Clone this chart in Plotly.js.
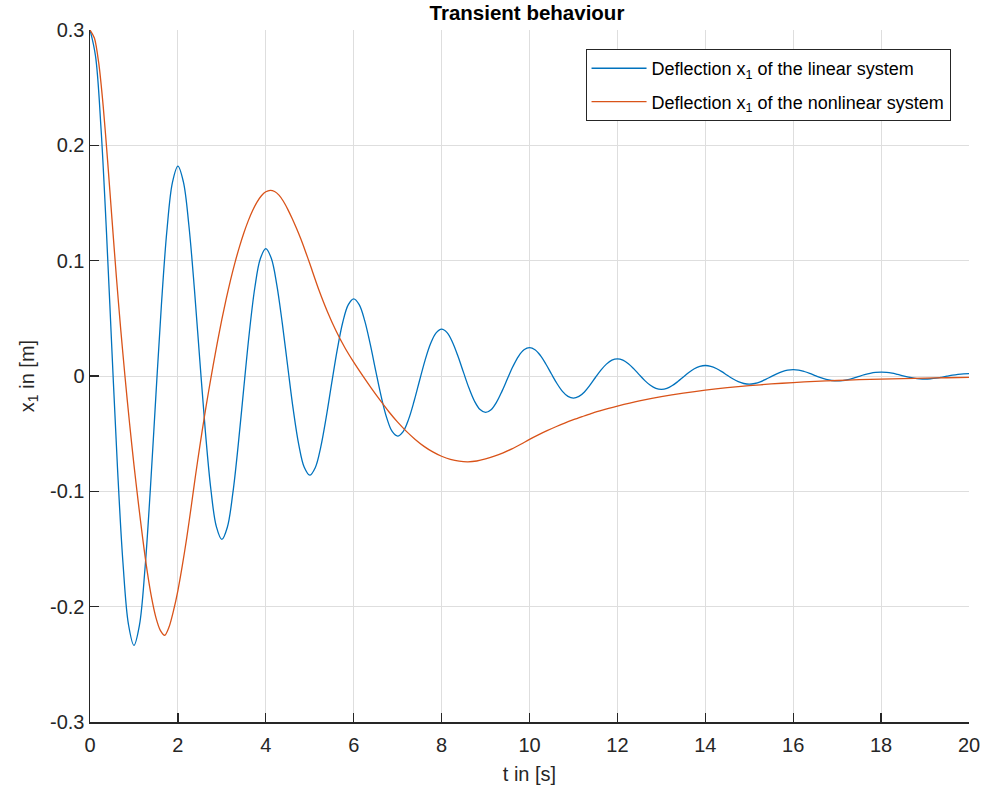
<!DOCTYPE html>
<html>
<head>
<meta charset="utf-8">
<script src="https://cdn.plot.ly/plotly-3.0.1.min.js"></script>
<style>html,body{margin:0;padding:0;background:#fff;}#chart{width:985px;height:789px;}</style>
</head>
<body>
<div id="chart"></div>
<script>
const linearStart = 0;
const linearStep = 0.125;
const linearX1 = [
  0.3000, 0.2775, 0.2151, 0.1246, 0.0211, -0.0793, -0.1619, -0.2154,
  -0.2336, -0.2161, -0.1676, -0.0971, -0.0164, 0.0618, 0.1261, 0.1677,
  0.1820, 0.1683, 0.1305, 0.0756, 0.0128, -0.0481, -0.0982, -0.1306,
  -0.1417, -0.1311, -0.1016, -0.0589, -0.0100, 0.0375, 0.0765, 0.1017,
  0.1104, 0.1021, 0.0791, 0.0458, 0.0078, -0.0292, -0.0595, -0.0792,
  -0.0860, -0.0795, -0.0616, -0.0357, -0.0060, 0.0227, 0.0464, 0.0617,
  0.0669, 0.0619, 0.0480, 0.0278, 0.0047, -0.0177, -0.0361, -0.0481,
  -0.0521, -0.0482, -0.0374, -0.0217, -0.0037, 0.0138, 0.0281, 0.0374,
  0.0406, 0.0376, 0.0291, 0.0169, 0.0029, -0.0107, -0.0219, -0.0291,
  -0.0316, -0.0292, -0.0227, -0.0131, -0.0022, 0.0084, 0.0171, 0.0227,
  0.0246, 0.0228, 0.0177, 0.0102, 0.0017, -0.0065, -0.0133, -0.0177,
  -0.0192, -0.0177, -0.0138, -0.0080, -0.0013, 0.0051, 0.0103, 0.0138,
  0.0149, 0.0138, 0.0107, 0.0062, 0.0010, -0.0040, -0.0081, -0.0107,
  -0.0116, -0.0108, -0.0083, -0.0048, -0.0008, 0.0031, 0.0063, 0.0083,
  0.0091, 0.0084, 0.0065, 0.0038, 0.0006, -0.0024, -0.0049, -0.0065,
  -0.0071, -0.0065, -0.0051, -0.0029, -0.0005, 0.0019, 0.0038, 0.0051,
  0.0055, 0.0051, 0.0039, 0.0023, 0.0004, -0.0015, -0.0030, -0.0039,
  -0.0043, -0.0040, -0.0031, -0.0018, -0.0003, 0.0011, 0.0023, 0.0031,
  0.0034, 0.0032, 0.0025, 0.0014, 0.0002, -0.0009, -0.0018, -0.0024,
  -0.0026, -0.0024, -0.0019, -0.0011, -0.0002, 0.0007, 0.0014, 0.0019,
  0.0021
];

// Nonlinear system deflection x1
const nonlinearT = [
  0, 0.1, 0.2, 0.3, 0.4, 0.5, 0.6, 0.7, 0.8, 0.9,
  1.0, 1.1, 1.2, 1.3, 1.4, 1.5, 1.6, 1.7, 1.8, 1.9,
  2.0, 2.1, 2.2, 2.3, 2.4, 2.5, 2.6, 2.7, 2.8, 2.9,
  3.0, 3.1, 3.2, 3.3, 3.4, 3.5, 3.6, 3.7, 3.8, 3.9,
  4.0, 4.1, 4.2, 4.3, 4.4, 4.5, 4.6, 4.7, 4.8, 4.9,
  5.0, 5.2, 5.4, 5.6, 5.8, 6.0, 6.2, 6.4, 6.6, 6.8,
  7.0, 7.2, 7.4, 7.6, 7.8, 8.0, 8.2, 8.4, 8.6, 8.8,
  9.0, 9.2, 9.4, 9.6, 9.8, 10.0, 10.2, 10.4, 10.6, 10.8,
  11.0, 11.2, 11.4, 11.6, 11.8, 12.0, 12.5, 13.0, 13.5, 14.0,
  14.5, 15.0, 15.5, 16.0, 16.5, 17.0, 17.5, 18.0, 18.5, 19.0,
  19.5, 20.0
];
const nonlinearX1 = [
  0.300, 0.293, 0.271, 0.234, 0.187, 0.136, 0.086, 0.040, -0.002, -0.041,
  -0.077, -0.110, -0.141, -0.169, -0.192, -0.2095, -0.2205, -0.2248, -0.2175, -0.2035,
  -0.186, -0.1645, -0.1405, -0.114, -0.0865, -0.0605, -0.036, -0.013, 0.0088, 0.0295,
  0.049, 0.067, 0.0835, 0.0985, 0.112, 0.124, 0.1345, 0.1435, 0.1508, 0.1563,
  0.1597, 0.1610, 0.1600, 0.1568, 0.1515, 0.1445, 0.1365, 0.1278, 0.1185, 0.1082,
  0.0975, 0.0755, 0.056, 0.039, 0.0245, 0.012, 0.0005, -0.0105, -0.021, -0.031,
  -0.040, -0.048, -0.055, -0.061, -0.0658, -0.0696, -0.0723, -0.0739, -0.0744, -0.0737,
  -0.0719, -0.0695, -0.0666, -0.0632, -0.0592, -0.0550, -0.0511, -0.0474, -0.0440, -0.0408,
  -0.0379, -0.0352, -0.0326, -0.0303, -0.0281, -0.0261, -0.0216, -0.0179, -0.0148, -0.0122,
  -0.0101, -0.0084, -0.0069, -0.0057, -0.0047, -0.0039, -0.0032, -0.0027, -0.0022, -0.0018,
  -0.0015, -0.0012
];

const seriesNames = [
  'Deflection x<sub>1</sub> of the linear system',
  'Deflection x<sub>1</sub> of the nonlinear system'
];
const xTicks = [0, 2, 4, 6, 8, 10, 12, 14, 16, 18, 20];
const yTicks = [-0.3, -0.2, -0.1, 0, 0.1, 0.2, 0.3];
const yTickLabels = ['-0.3', '-0.2', '-0.1', '0', '0.1', '0.2', '0.3'];

const FONT = '"Liberation Sans", Arial, Helvetica, sans-serif';
const INK = '#262626';
const GRID = '#dedede';

const traces = [
  {
    type: 'scatter', mode: 'lines',
    x0: linearStart, dx: linearStep, y: linearX1,
    name: seriesNames[0], legendgroup: 'a',
    line: {color: '#0072BD', width: 1.3, shape: 'spline', smoothing: 1}
  },
  {
    type: 'scatter', mode: 'lines',
    x: nonlinearT, y: nonlinearX1,
    name: seriesNames[1], legendgroup: 'b',
    line: {color: '#D95319', width: 1.3, shape: 'spline', smoothing: 0.8}
  }
];

const layout = {
  width: 985, height: 789,
  paper_bgcolor: '#ffffff', plot_bgcolor: '#ffffff',
  margin: {l: 90, r: 16, t: 30, b: 67},
  font: {family: FONT, color: INK, size: 20},
  title: {
    text: 'Transient behaviour',
    font: {family: FONT, size: 20.5, color: '#000000', weight: 'bold'},
    x: 0.535, xanchor: 'center', xref: 'container',
    y: 0.984, yanchor: 'middle', yref: 'container'
  },
  xaxis: {
    range: [0, 20], tickvals: xTicks, ticktext: xTicks.map(String),
    showgrid: true, gridcolor: GRID, gridwidth: 1, zeroline: false,
    showline: true, linecolor: INK, linewidth: 1.5, mirror: false,
    ticks: 'inside', ticklen: 9, tickwidth: 1.3, tickcolor: INK,
    ticklabelstandoff: 4,
    tickfont: {family: FONT, size: 20, color: INK},
    title: {text: 't in [s]', font: {family: FONT, size: 20, color: INK}, standoff: 12},
    automargin: false
  },
  yaxis: {
    range: [-0.3, 0.3], tickvals: yTicks, ticktext: yTickLabels,
    showgrid: true, gridcolor: GRID, gridwidth: 1, zeroline: false,
    showline: true, linecolor: INK, linewidth: 1.5, mirror: false,
    ticks: 'inside', ticklen: 9, tickwidth: 1.3, tickcolor: INK,
    tickfont: {family: FONT, size: 20, color: INK},
    title: {text: 'x<sub>1</sub> in [m]', font: {family: FONT, size: 20, color: INK}, standoff: 10},
    automargin: false
  },
  showlegend: true,
  legend: {
    x: 0.979, y: 0.9725, xanchor: 'right', yanchor: 'top',
    bgcolor: '#ffffff', bordercolor: INK, borderwidth: 1,
    font: {family: FONT, size: 18, color: '#000000'},
    traceorder: 'grouped', tracegroupgap: 7, itemwidth: 55
  }
};

Plotly.newPlot('chart', traces, layout, {displayModeBar: false, staticPlot: true});
</script>
</body>
</html>
